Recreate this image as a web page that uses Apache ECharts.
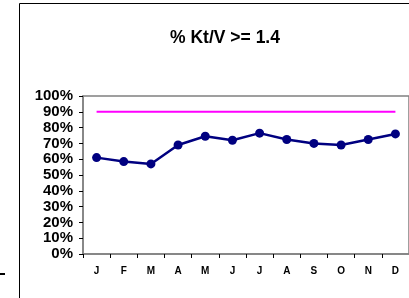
<!DOCTYPE html>
<html>
<head>
<meta charset="utf-8">
<script src="https://cdn.jsdelivr.net/npm/echarts@6/dist/echarts.min.js"></script>
<style>
  html, body { margin: 0; padding: 0; background: #fff; }
  #chart { width: 409px; height: 298px; }
</style>
</head>
<body>
<div id="chart"></div>
<script>
// 数据
var months = ['J', 'F', 'M', 'A', 'M', 'J', 'J', 'A', 'S', 'O', 'N', 'D'];
var ktvValues = [61, 58.5, 57, 69, 74.5, 72, 76.5, 72.5, 70, 69, 72.5, 76];
var targetValues = [90, 90, 90, 90, 90, 90, 90, 90, 90, 90, 90, 90];
var yTicks = [0, 10, 20, 30, 40, 50, 60, 70, 80, 90, 100];

document.addEventListener('DOMContentLoaded', function () {
    var myChart = echarts.init(document.getElementById('chart'));

    var option = {
        backgroundColor: '#fff',
        animation: false,
        title: {
            text: '% Kt/V >= 1.4',
            left: 220,
            top: 24,
            textAlign: 'center',
            textStyle: {
                fontFamily: 'Liberation Sans, Arial, sans-serif',
                fontSize: 17.5,
                fontWeight: 'bold',
                color: '#000'
            }
        },
        grid: {
            left: 83,
            top: 96,
            width: 326,
            height: 158,
            show: true,
            borderColor: '#808080',
            borderWidth: 1.5,
            backgroundColor: 'transparent'
        },
        xAxis: {
            type: 'category',
            data: months,
            boundaryGap: true,
            axisLine: { lineStyle: { color: '#808080', width: 1.5 } },
            axisTick: { show: true, length: 4, lineStyle: { color: '#000' } },
            axisLabel: {
                margin: 12,
                fontFamily: 'Liberation Sans, Arial, sans-serif',
                fontSize: 10,
                fontWeight: 'bold',
                color: '#000'
            }
        },
        yAxis: {
            type: 'value',
            min: 0,
            max: 100,
            interval: 10,
            axisLine: { show: true, lineStyle: { color: '#808080', width: 1.5 } },
            axisTick: { show: true, length: 4, lineStyle: { color: '#000' } },
            splitLine: { show: false },
            axisLabel: {
                margin: 10,
                fontFamily: 'Liberation Sans, Arial, sans-serif',
                fontSize: 15,
                fontWeight: 'bold',
                color: '#000',
                formatter: function (v) {
                    return yTicks.indexOf(v) >= 0 ? v + '%' : '';
                }
            }
        },
        series: [
            {
                name: 'target',
                type: 'line',
                data: targetValues,
                symbol: 'none',
                lineStyle: { color: '#ff00ff', width: 2 }
            },
            {
                name: 'Kt/V',
                type: 'line',
                data: ktvValues,
                symbol: 'circle',
                symbolSize: 9,
                itemStyle: { color: '#000080' },
                lineStyle: { color: '#000080', width: 2.5 }
            }
        ],
        graphic: [
            {
                type: 'rect',
                shape: { x: 19.5, y: 3.5, width: 400, height: 300 },
                style: { fill: 'none', stroke: '#000', lineWidth: 1 },
                silent: true
            },
            {
                type: 'line',
                shape: { x1: 0, y1: 274, x2: 5, y2: 274 },
                style: { stroke: '#000', lineWidth: 2 },
                silent: true
            }
        ]
    };

    myChart.setOption(option);
});
</script>
</body>
</html>
